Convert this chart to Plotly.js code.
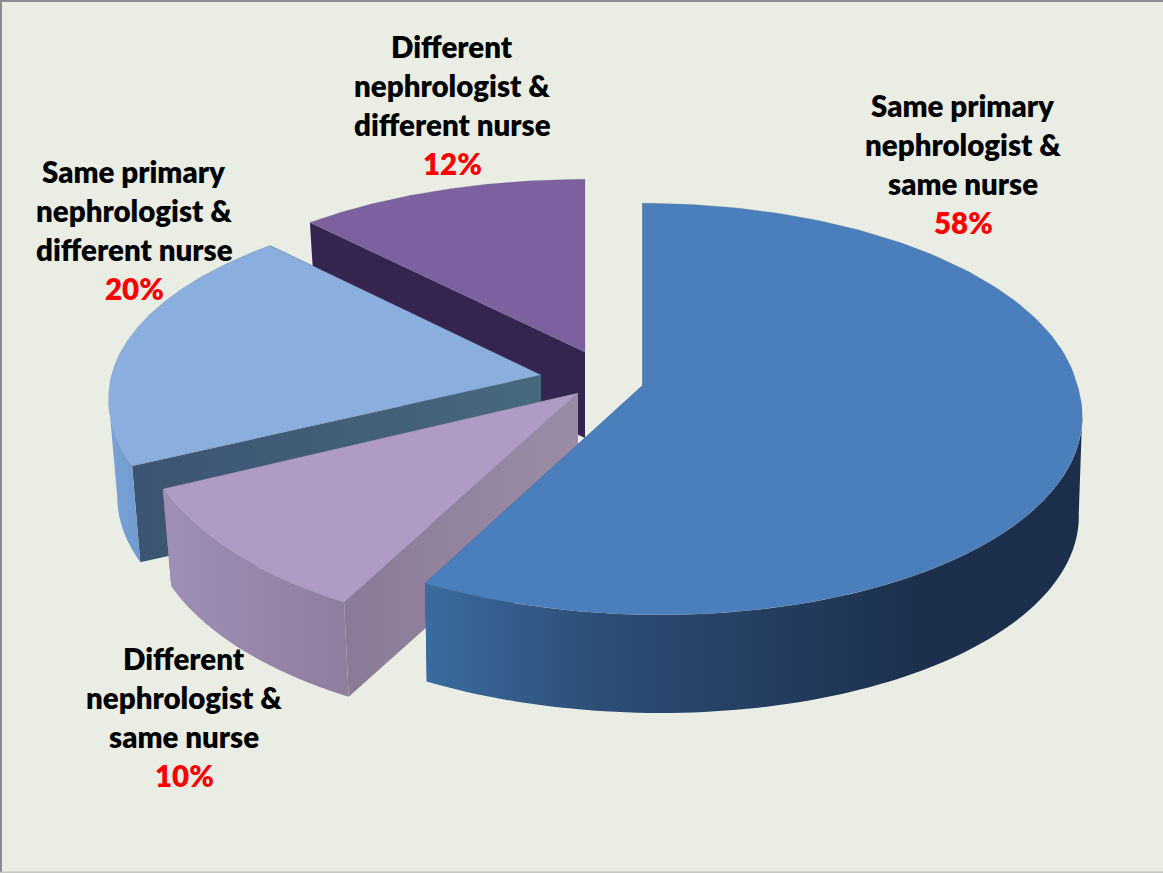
<!DOCTYPE html>
<html>
<head>
<meta charset="utf-8">
<script src="https://cdn.plot.ly/plotly-3.0.1.min.js"></script>
<style>html,body{margin:0;padding:0;background:#eaede3}#chart{width:1163px;height:873px}</style>
</head>
<body>
<div id="chart"></div>
<script>
// Share of patients by continuity of care team, in percent
const shares = [58, 10, 20, 12];
const labelLines = [
  ["Same primary", "nephrologist &", "same nurse"],
  ["Different", "nephrologist &", "same nurse"],
  ["Same primary", "nephrologist &", "different nurse"],
  ["Different", "nephrologist &", "different nurse"]
];

// Camera and extrusion of the exploded pie, in plot units (axes run 1:1 with pixels)
const radiusX = 436, radiusY = 203, perspective = 0.1166;
const slicePlacement = [
  {x: 643, y: 385, sx: 0.996, sy: 1,     syBack: 1,    shear: 0.076, depth: 100, base: 0.992},
  {x: 578, y: 393, sx: 1,     sy: 1.055, syBack: 1,    shear: 0,     depth: 99,  base: 0.98},
  {x: 541, y: 375, sx: 0.985, sy: 1,     syBack: 0.95, shear: 0,     depth: 98,  base: 0.98},
  {x: 585, y: 352, sx: 1,     sy: 0.95,  syBack: 0.95, shear: 0,     depth: 86,  base: 0.98}
];
const sliceStyle = [
  {top: "#4a7ebd", rim: [[0, "#3b6c9f"], [0.25, "#2d4f78"], [0.5, "#253f62"], [0.75, "#1c304e"], [1, "#1b2f4c"]],
   start: "#2a5486", end: "#2a5486", startLine: "#2f5a8c"},
  {top: "#b09bc6", rim: [[0, "#a08fb6"], [1, "#8f7d9e"]], start: [[0, "#8a7a97"], [1, "#9b8ca6"]], end: "#8a7a97"},
  {top: "#8aaede", rim: [[0, "#7ba4d6"], [1, "#6f9ace"]], start: [[0, "#3c5473"], [1, "#46697d"]], end: "#3c5473"},
  {top: "#7c60a0", rim: [[0, "#5a4678"], [1, "#5a4678"]], start: "#34244f", end: "#2b1e44"}
];
// Slices are painted back to front so nearer ones cover farther ones
const paintOrder = [3, 2, 1, 0];

function project(place, turn, lower) {
  const u = Math.sin(turn), v = -Math.cos(turn);
  const s = 1 / (1 - perspective * v);
  const dy = radiusY * v * s * (v < 0 ? place.syBack : place.sy);
  const dx = radiusX * u * s * place.sx + place.shear * Math.max(0, dy);
  const k = lower ? place.base : 1;
  return [place.x + dx * k, place.y + dy * k + (lower ? place.depth : 0)];
}

function turns(t0, t1) {
  const list = [], n = 160;
  for (let i = 0; i <= n; i++) list.push(t0 + (t1 - t0) * i / n);
  return list;
}

function paint(name, pts, color, lineColor) {
  const t = {
    type: "scatter", mode: lineColor ? "lines" : "none", name: name,
    x: pts.map(p => p[0]), y: pts.map(p => p[1]),
    fill: "toself", hoverinfo: "skip", showlegend: false,
    line: {width: lineColor ? 0.8 : 0, color: lineColor || "rgba(0,0,0,0)"}
  };
  if (typeof color === "string") t.fillcolor = color;
  else t.fillgradient = {type: "horizontal", colorscale: color};
  return t;
}

const total = shares.reduce((a, b) => a + b, 0);
const spans = [];
shares.reduce((from, value, i) => {
  const to = from + value / total * 2 * Math.PI;
  spans[i] = [from, to];
  return to;
}, 0);

const traces = [];
paintOrder.forEach(i => {
  const [t0, t1] = spans[i], pl = slicePlacement[i], st = sliceStyle[i];
  const apexTop = [pl.x, pl.y], apexLow = [pl.x, pl.y + pl.depth];
  const wall = t => [apexTop, project(pl, t, false), project(pl, t, true), apexLow, apexTop];
  traces.push(paint("end wall", wall(t1), st.end));
  traces.push(paint("start wall", wall(t0), st.start, st.startLine));
  const sweep = turns(t0, t1);
  // Only the part of the rim that faces the viewer is extruded
  const front = sweep.filter(t => -Math.cos(t) >= perspective);
  if (front.length > 1) {
    const upper = front.map(t => project(pl, t, false));
    const lower = front.map(t => project(pl, t, true)).reverse();
    traces.push(paint("rim", upper.concat(lower, [upper[0]]), st.rim));
  }
  const outline = sweep.map(t => project(pl, t, false));
  traces.push(paint("top", [apexTop].concat(outline, [apexTop]), st.top, "rgba(110,120,135,0.3)"));
});

// Each text block: centre x and the y of its first line
const labelAnchor = [[963, 105], [184, 658], [134, 171], [452, 46]];
const lineStep = 39;
const annotations = [];
labelLines.forEach((lines, i) => {
  const [ax, ay] = labelAnchor[i];
  lines.concat([shares[i] + "%"]).forEach((text, j) => {
    annotations.push({
      x: ax, y: ay + j * lineStep, xref: "x", yref: "y", text: text, showarrow: false,
      xanchor: "center", yanchor: "middle",
      font: {family: "Lato, 'Open Sans', sans-serif", size: 29.5, color: j === lines.length ? "#ff0000" : "#000000", weight: 800}
    });
  });
});

const edge = (x0, y0, x1, y1, color) => ({type: "line", xref: "x", yref: "y", x0, y0, x1, y1, line: {color, width: 2}});

Plotly.newPlot("chart", traces, {
  width: 1163, height: 873,
  margin: {l: 0, r: 0, t: 0, b: 0},
  paper_bgcolor: "#eaede3", plot_bgcolor: "#eaede3",
  showlegend: false,
  xaxis: {range: [0, 1163], visible: false, fixedrange: true},
  yaxis: {range: [873, 0], visible: false, fixedrange: true},
  annotations: annotations,
  shapes: [
    edge(0, 1, 1163, 1, "#8c8c8c"),
    edge(1, 0, 1, 873, "#8c8c8c"),
    edge(0, 872.5, 1163, 872.5, "#c4c6bf")
  ]
}, {staticPlot: true, displayModeBar: false});
</script>
</body>
</html>
